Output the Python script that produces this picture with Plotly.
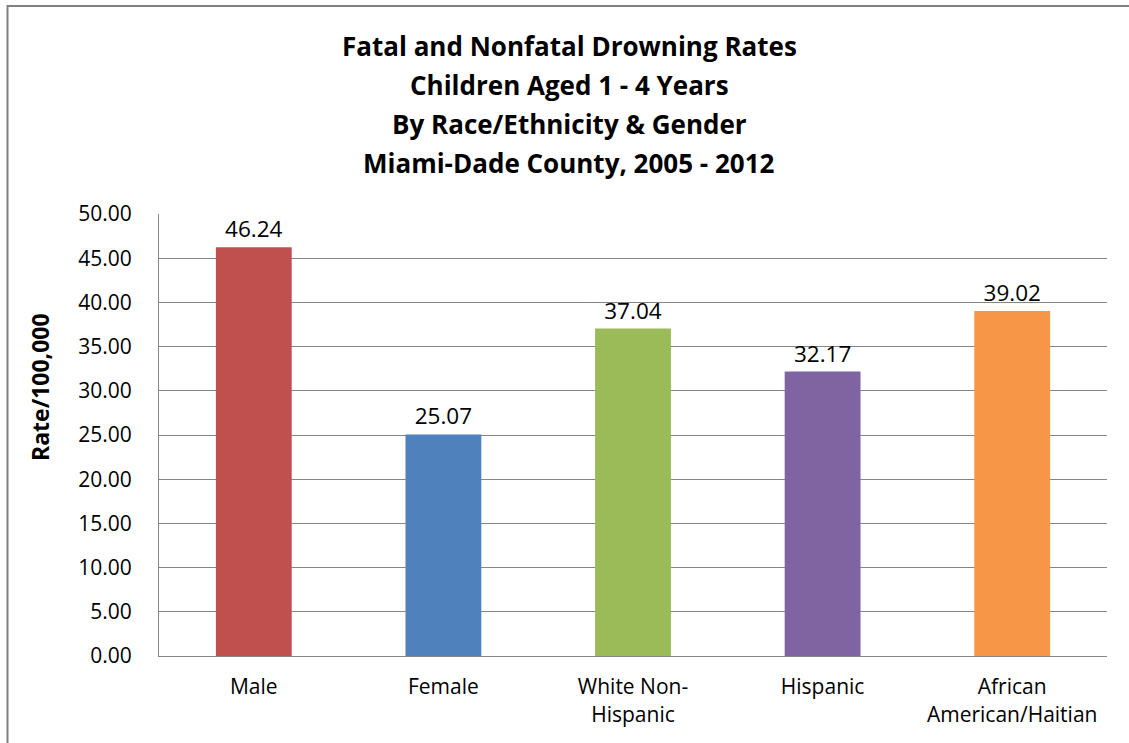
import plotly.graph_objects as go

# Drowning rates per 100,000 children aged 1-4, Miami-Dade County 2005-2012
categories = ["Male", "Female", "White Non-<br>Hispanic", "Hispanic", "African<br>American/Haitian"]
rates = [46.24, 25.07, 37.04, 32.17, 39.02]
bar_colors = ["#C0504D", "#4F81BD", "#9BBB59", "#8064A2", "#F79646"]
y_ticks = [0, 5, 10, 15, 20, 25, 30, 35, 40, 45, 50]
title_lines = [
    "Fatal and Nonfatal Drowning Rates",
    "Children Aged 1 - 4 Years",
    "By Race/Ethnicity &amp; Gender",
    "Miami-Dade County, 2005 - 2012",
]

FONT = "Open Sans"
GRID = "#868686"

fig = go.Figure(
    go.Bar(
        x=categories,
        y=rates,
        marker=dict(color=bar_colors, line=dict(width=0)),
        width=0.4,
        text=[f"{v:.2f}" for v in rates],
        textposition="outside",
        textfont=dict(family=FONT, size=22.5, color="#000000"),
        cliponaxis=False,
    )
)

fig.update_layout(
    width=1129,
    height=743,
    paper_bgcolor="#FFFFFF",
    plot_bgcolor="#FFFFFF",
    margin=dict(l=159, r=22, t=214, b=87),
    showlegend=False,
    font=dict(family=FONT, color="#000000"),
    xaxis=dict(
        showgrid=False,
        showline=True,
        linecolor=GRID,
        linewidth=1,
        ticks="",
        ticklabelstandoff=12,
        tickfont=dict(family=FONT, size=21, color="#000000"),
    ),
    yaxis=dict(
        range=[0, 50],
        tickvals=y_ticks,
        ticktext=[f"{v:.2f}" for v in y_ticks],
        showgrid=True,
        gridcolor=GRID,
        gridwidth=1,
        showline=True,
        linecolor=GRID,
        linewidth=1,
        ticks="",
        ticklabelstandoff=22,
        tickfont=dict(family=FONT, size=21, color="#000000"),
        zeroline=False,
    ),
)

# Four-line chart title, one annotation per line
title_y = [45.5, 85.5, 124, 163]
for line, ypx in zip(title_lines, title_y):
    fig.add_annotation(
        text=f"<b>{line}</b>",
        xref="paper", yref="paper",
        x=(569 - 159) / 948, y=(656 - ypx) / 442,
        xanchor="center", yanchor="middle",
        showarrow=False,
        font=dict(family=FONT, size=26, color="#000000"),
    )

# Vertical axis title
fig.add_annotation(
    text="<b>Rate/100,000</b>",
    xref="paper", yref="paper",
    x=(40 - 159) / 948, y=(656 - 387) / 442,
    xanchor="center", yanchor="middle",
    textangle=-90,
    showarrow=False,
    font=dict(family=FONT, size=23, color="#000000"),
)

# Chart frame around the whole figure
fig.add_shape(
    type="rect",
    xref="paper", yref="paper",
    x0=-0.1598, x1=1.06, y0=-0.3, y1=1.4705,
    line=dict(color="#808080", width=2),
    fillcolor="rgba(0,0,0,0)",
    layer="below",
)

fig.write_html("out.html")
